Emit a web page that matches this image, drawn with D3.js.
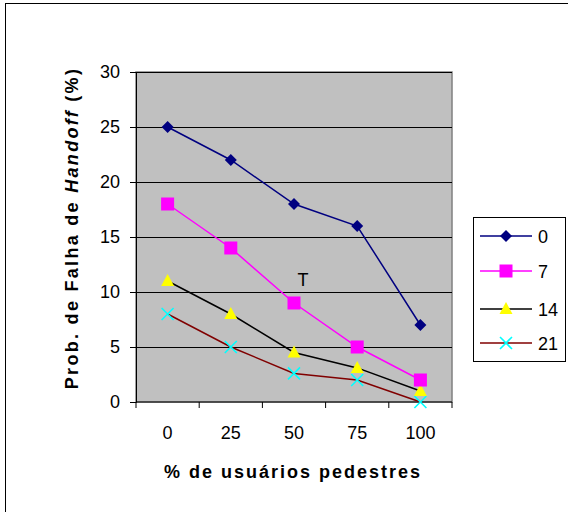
<!DOCTYPE html>
<html>
<head>
<meta charset="utf-8">
<script src="https://cdn.jsdelivr.net/npm/d3@7"></script>
<style>
  body { margin: 0; background: #fff; }
  svg { display: block; font-family: Arial, "Liberation Sans", sans-serif; }
</style>
</head>
<body>
<script>
// categories on the x axis (% of pedestrian users)
var categories = ["0", "25", "50", "75", "100"];
var yTicks = [0, 5, 10, 15, 20, 25, 30];

var seriesNames = ["0", "7", "14", "21"];
var values0 = [25, 22, 18, 16, 7];
var values7 = [18, 14, 9, 5, 2];
var values14 = [11, 8, 4.5, 3.1, 1];
var values21 = [8, 5, 2.6, 2, 0];

var width = 568, height = 512;
var m = { left: 136, top: 72, right: 452, bottom: 402 };
var fs = 18;

var svg = d3.select("body").append("svg")
    .attr("width", width)
    .attr("height", height);

// outer frame
svg.append("rect")
    .attr("x", 5.5).attr("y", 3.5)
    .attr("width", 600).attr("height", 600)
    .attr("fill", "none").attr("stroke", "#000").attr("stroke-width", 1);

var x = d3.scaleBand().domain(categories).range([m.left, m.right]);
var y = d3.scaleLinear().domain([0, 30]).range([m.bottom, m.top]);

// plot area
svg.append("rect")
    .attr("x", m.left).attr("y", m.top)
    .attr("width", m.right - m.left).attr("height", m.bottom - m.top)
    .attr("fill", "#c0c0c0")
    .attr("stroke", "#808080").attr("stroke-width", 1.5);

// gridlines
svg.append("g").selectAll("line")
    .data(yTicks.filter(function(d) { return d > 0; }))
  .enter().append("line")
    .attr("x1", m.left).attr("x2", m.right)
    .attr("y1", function(d) { return Math.round(y(d)) + 0.5; })
    .attr("y2", function(d) { return Math.round(y(d)) + 0.5; })
    .attr("stroke", "#000").attr("stroke-width", 1);

// y axis
var yAxis = svg.append("g")
    .attr("transform", "translate(" + m.left + ",0)")
    .call(d3.axisLeft(y).tickValues(yTicks).tickSize(6).tickPadding(10));
yAxis.selectAll("text").attr("font-size", fs).attr("fill", "#000")
    .attr("font-family", "Arial, 'Liberation Sans', sans-serif");
yAxis.select(".domain").attr("stroke", "#000");

// x axis: ticks at band edges
var xAxis = svg.append("g")
    .attr("transform", "translate(0," + m.bottom + ")");
xAxis.append("line")
    .attr("x1", m.left).attr("x2", m.right)
    .attr("stroke", "#000");
var edges = d3.range(categories.length + 1).map(function(i) { return m.left + i * x.bandwidth(); });
xAxis.selectAll(".tk").data(edges).enter().append("line")
    .attr("x1", function(d) { return d; }).attr("x2", function(d) { return d; })
    .attr("y1", 0).attr("y2", 6).attr("stroke", "#000");
xAxis.selectAll("text").data(categories).enter().append("text")
    .attr("x", function(d) { return x(d) + x.bandwidth() / 2; })
    .attr("y", 37)
    .attr("text-anchor", "middle")
    .attr("font-size", fs)
    .text(function(d) { return d; });

// axis titles
svg.append("text")
    .attr("x", 293).attr("y", 478)
    .attr("text-anchor", "middle")
    .attr("font-size", fs).attr("font-weight", "bold")
    .attr("letter-spacing", 2)
    .text("% de usuários pedestres");

var yt = svg.append("text")
    .attr("transform", "translate(78,228) rotate(-90)")
    .attr("text-anchor", "middle")
    .attr("font-size", fs).attr("font-weight", "bold")
    .attr("letter-spacing", 2.3);
yt.append("tspan").text("Prob. de Falha de ");
yt.append("tspan").attr("font-style", "italic").text("Handoff");
yt.append("tspan").text("  (%)");

// series
var series = [
  { name: seriesNames[0], values: values0, line: "#000080", fill: "#000080", shape: "diamond" },
  { name: seriesNames[1], values: values7, line: "#ff00ff", fill: "#ff00ff", shape: "square" },
  { name: seriesNames[2], values: values14, line: "#000000", fill: "#ffff00", shape: "triangle" },
  { name: seriesNames[3], values: values21, line: "#800000", fill: "#00ffff", shape: "cross" }
];

var line = d3.line()
    .x(function(d, i) { return x(categories[i]) + x.bandwidth() / 2; })
    .y(function(d) { return y(d); });

function drawMarker(g, s, cx, cy) {
  if (s.shape === "diamond") {
    g.append("path").attr("d", "M" + cx + "," + (cy - 6) + "L" + (cx + 6) + "," + cy + "L" + cx + "," + (cy + 6) + "L" + (cx - 6) + "," + cy + "Z")
      .attr("fill", s.fill);
  } else if (s.shape === "square") {
    g.append("rect").attr("x", cx - 6.5).attr("y", cy - 6.5)
      .attr("width", 13).attr("height", 13).attr("fill", s.fill);
  } else if (s.shape === "triangle") {
    g.append("path").attr("d", "M" + cx + "," + (cy - 7) + "L" + (cx + 6.5) + "," + (cy + 5) + "L" + (cx - 6.5) + "," + (cy + 5) + "Z")
      .attr("fill", s.fill);
  } else {
    g.append("path").attr("d", "M" + (cx - 6) + "," + (cy - 6) + "L" + (cx + 6) + "," + (cy + 6) +
        "M" + (cx + 6) + "," + (cy - 6) + "L" + (cx - 6) + "," + (cy + 6))
      .attr("stroke", s.fill).attr("stroke-width", 1.6).attr("fill", "none");
  }
}

series.slice().reverse().forEach(function(s) {
  var g = svg.append("g");
  g.append("path").datum(s.values)
    .attr("d", line)
    .attr("fill", "none").attr("stroke", s.line).attr("stroke-width", 1.5);
  s.values.forEach(function(v, i) {
    drawMarker(g, s, x(categories[i]) + x.bandwidth() / 2, y(v));
  });
});

// annotation
svg.append("text")
    .attr("x", 303).attr("y", 286)
    .attr("text-anchor", "middle")
    .attr("font-size", fs)
    .text("T");

// legend
var lg = svg.append("g");
lg.append("rect")
    .attr("x", 473.5).attr("y", 217.5)
    .attr("width", 92).attr("height", 144)
    .attr("fill", "#fff").attr("stroke", "#000").attr("stroke-width", 1);
var legendY = [236, 271, 309, 343];
series.forEach(function(s, i) {
  var ly = legendY[i];
  lg.append("line").attr("x1", 480).attr("x2", 532)
    .attr("y1", ly).attr("y2", ly)
    .attr("stroke", s.line).attr("stroke-width", 1.5);
  drawMarker(lg, s, 506, ly);
  lg.append("text").attr("x", 538).attr("y", ly + 7)
    .attr("font-size", fs).text(s.name);
});
</script>
</body>
</html>
